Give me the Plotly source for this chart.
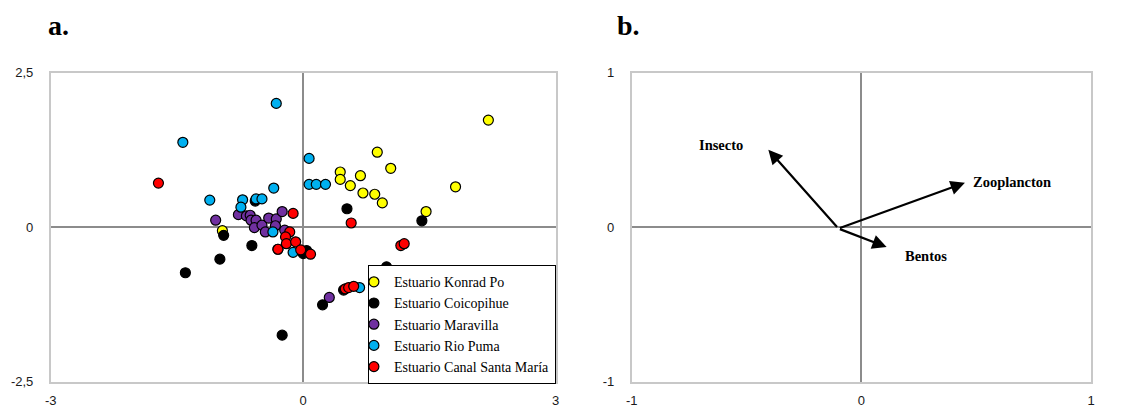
import plotly.graph_objects as go

# --- Panel a: site scores per estuary ---
kp_x = [2.20, 0.88, 1.04, 0.44, 0.44, 0.68, 0.56, 0.71, 0.85, 0.94, 1.81, 1.46, -0.96]
kp_y = [1.73, 1.21, 0.95, 0.89, 0.77, 0.83, 0.67, 0.55, 0.53, 0.39, 0.65, 0.25, -0.06]

co_x = [0.52, 1.41, 0.99, -0.945, -0.61, -0.99, -1.40, -0.25, 0.23, 0.48, -0.57, 0.00, 0.04]
co_y = [0.295, 0.10, -0.645, -0.135, -0.30, -0.52, -0.74, -1.75, -1.26, -1.02, 0.42, -0.43, -0.38]

ma_x = [-1.04, -0.77, -0.675, -0.63, -0.62, -0.56, -0.58, -0.49, -0.45, -0.41, -0.32, -0.33, -0.25, -0.22, -0.30, 0.31]
ma_y = [0.11, 0.20, 0.18, 0.19, 0.11, 0.11, -0.01, 0.03, -0.08, 0.145, 0.13, 0.02, 0.25, -0.05, -0.36, -1.14]

rp_x = [-0.32, -1.43, 0.07, 0.07, 0.155, 0.265, -0.35, -1.11, -0.72, -0.56, -0.49, -0.74, -0.36, -0.12, 0.67]
rp_y = [2.00, 1.37, 1.11, 0.69, 0.69, 0.69, 0.63, 0.435, 0.44, 0.455, 0.455, 0.32, -0.08, -0.41, -0.98]

cs_x = [-1.72, -0.12, 0.57, 1.16, 1.20, -0.16, -0.21, -0.20, -0.09, -0.30, -0.03, 0.087, 0.50, 0.54, 0.60]
cs_y = [0.71, 0.22, 0.065, -0.30, -0.27, -0.08, -0.16, -0.27, -0.24, -0.36, -0.37, -0.44, -1.00, -0.98, -0.96]

site_names = ["Estuario Konrad Po", "Estuario Coicopihue", "Estuario Maravilla",
              "Estuario Rio Puma", "Estuario Canal Santa María"]
site_colors = ["#ffff00", "#000000", "#7030a0", "#00b0f0", "#ff0000"]

# --- Panel b: diet-item loadings ---
vec_origin = [-0.10, -0.01]
vec_names = ["Insecto", "Zooplancton", "Bentos"]
vec_x = [-0.405, 0.451, 0.11]
vec_y = [0.50, 0.286, -0.13]
lab_x = [-0.61, 0.655, 0.28]
lab_y = [0.53, 0.29, -0.19]

a_ticks = [-3, 0, 3]
a_ticktext = ["-3", "0", "3"]
a_yticks = [-2.5, 0, 2.5]
a_yticktext = ["-2,5", "0", "2,5"]
b_ticks = [-1, 0, 1]
b_ticktext = ["-1", "0", "1"]

W, H = 1140, 409
fig = go.Figure()

series = [(kp_x, kp_y), (co_x, co_y), (ma_x, ma_y), (rp_x, rp_y), (cs_x, cs_y)]
for (xs, ys), name, col in zip(series, site_names, site_colors):
    fig.add_trace(go.Scatter(
        x=xs, y=ys, mode="markers", name=name,
        marker=dict(size=10, color=col, line=dict(color="#000000", width=1.2)),
        xaxis="x", yaxis="y"))

# invisible anchor so the second panel is drawn
fig.add_trace(go.Scatter(x=[vec_origin[0]], y=[vec_origin[1]], mode="markers",
                         marker=dict(size=1, color="rgba(0,0,0,0)"),
                         showlegend=False, hoverinfo="skip", xaxis="x2", yaxis="y2"))

tick_font = dict(family="Liberation Sans, Arial", size=13, color="#1a1a1a")
axis_common = dict(showgrid=False, zeroline=True, zerolinecolor="#8c8c8c", zerolinewidth=1.5,
                   showline=True, mirror=True, linecolor="#c8c8c8", linewidth=1.5,
                   ticks="", tickfont=tick_font, fixedrange=True, automargin=False)

ya0, ya1 = 1 - 381.5 / H, 1 - 72.5 / H
fig.update_layout(
    width=W, height=H,
    margin=dict(l=0, r=0, t=0, b=0, autoexpand=False),
    paper_bgcolor="white", plot_bgcolor="white",
    xaxis=dict(domain=[50.7 / W, 555.7 / W], range=[-3, 3], tickvals=a_ticks,
               ticktext=a_ticktext, anchor="y", ticklabelstandoff=6, **axis_common),
    yaxis=dict(domain=[ya0, ya1], range=[-2.5, 2.5], tickvals=a_yticks,
               ticktext=a_yticktext, anchor="x", ticklabelstandoff=13, **axis_common),
    xaxis2=dict(domain=[631.7 / W, 1091 / W], range=[-1, 1], tickvals=b_ticks,
                ticktext=b_ticktext, anchor="y2", ticklabelstandoff=6, **axis_common),
    yaxis2=dict(domain=[ya0, ya1], range=[-1, 1], tickvals=b_ticks,
                ticktext=b_ticktext, anchor="x2", ticklabelstandoff=13, **axis_common),
    legend=dict(x=555.7 / W, xanchor="right", y=1 - 384 / H, yanchor="bottom",
                bgcolor="white", bordercolor="#000000", borderwidth=1.2,
                font=dict(family="Liberation Serif, Times New Roman", size=14, color="#000000"),
                itemwidth=30, tracegroupgap=0, indentation=-15),
    showlegend=True,
)

annotations = []
# panel letters
for letter, px in (("a.", 46), ("b.", 615)):
    annotations.append(dict(text="<b>%s</b>" % letter, x=px / W, y=1 - 26 / H,
                            xref="paper", yref="paper", xanchor="left", yanchor="middle",
                            showarrow=False,
                            font=dict(family="Liberation Serif, Times New Roman", size=28, color="#000")))

for name, vx, vy, lx, ly in zip(vec_names, vec_x, vec_y, lab_x, lab_y):
    annotations.append(dict(x=vx, y=vy, ax=vec_origin[0], ay=vec_origin[1],
                            xref="x2", yref="y2", axref="x2", ayref="y2",
                            text="", showarrow=True, arrowhead=2, arrowsize=1.3,
                            arrowwidth=2.2, arrowcolor="#000000", standoff=0, startstandoff=0))
    annotations.append(dict(x=lx, y=ly, xref="x2", yref="y2", text="<b>%s</b>" % name,
                            showarrow=False,
                            font=dict(family="Liberation Serif, Times New Roman", size=14.5, color="#000")))

fig.update_layout(annotations=annotations)
fig.write_html("out.html")
